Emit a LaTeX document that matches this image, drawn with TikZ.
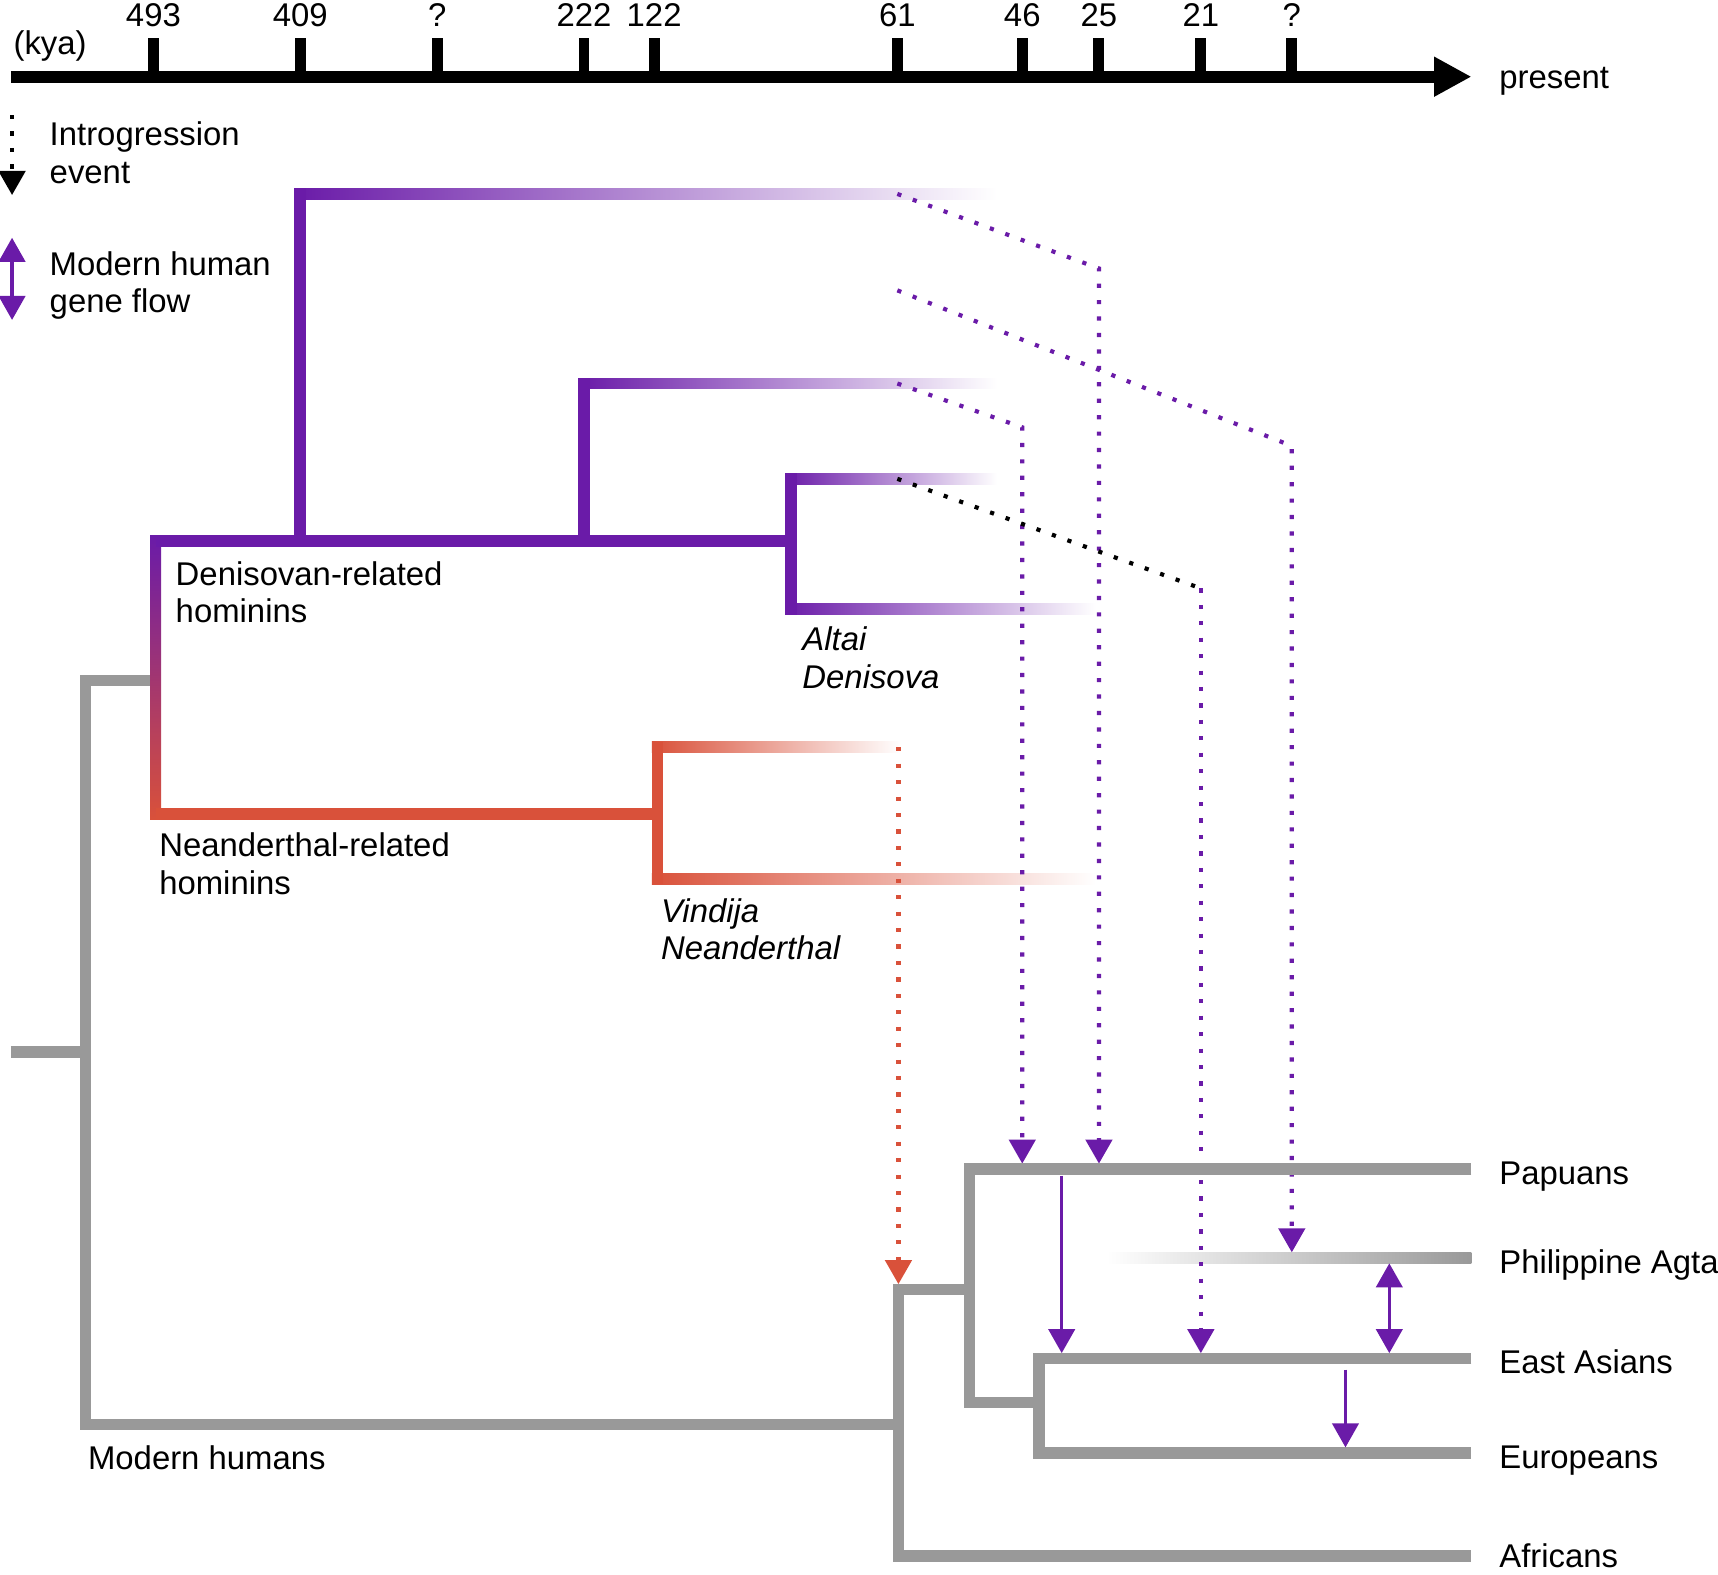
\documentclass[tikz,border=0pt]{standalone}
\usepackage{fontspec}
\setmainfont{Liberation Sans}
\usetikzlibrary{arrows.meta, calc}

\definecolor{denipurple}{RGB}{106,27,168}
\definecolor{neanred}{RGB}{217,81,58}
\definecolor{humangray}{RGB}{153,153,153}

\begin{document}
\begin{tikzpicture}[x=0.5pt, y=-0.5pt,
		every node/.style={font=\fontsize{15pt}{17pt}\selectfont, inner sep=0pt},
		txt/.style={anchor=north west, align=left},
		itxt/.style={anchor=north west, align=left, font=\fontsize{15pt}{17pt}\selectfont\itshape},
		tickmark/.style={line width=5pt},
		branch/.style={line width=5.3pt, line join=miter},
		fadebar/.style={left color=#1, right color=white},
		dots/.style={line width=1.9pt, dash pattern=on 1.9pt off 5.6pt},
		tip/.style={-{Triangle[width=12pt, length=11pt]}},
		flow/.style={denipurple, line width=1.6pt}]
		\useasboundingbox (0,0) rectangle (1568,1437);
		%%%%%%%%%%%%% time axis
		\coordinate (t start) at (10,70);
		\coordinate (t end) at (1343,70);
		\draw [line width=5.5pt, -{Triangle[width=17pt, length=17pt]}] (t start) -- (t end);
		\foreach \x/\lab in {140/493, 274/409, 399/?, 533/222, 597/122, 819/61, 933/46, 1003/25, 1096/21, 1179/?}{
			\draw [tickmark] (\x,35) -- (\x,70);
			\node [anchor=base] (kya\x) at (\x,24) {\lab};
		}
		\node [anchor=base west] (kya) at (12,50) {(kya)};
		\node [anchor=base west] (present) at (1368,81) {present};
		%%%%%%%%%%%%% legend
		\coordinate (leg dots top) at (11,105);
		\coordinate (leg dots tip) at (11,178);
		\coordinate (leg flow top) at (11,217);
		\coordinate (leg flow bot) at (11,292);
		\draw [dots, tip] (leg dots top) -- (leg dots tip);
		\draw [flow, {Triangle[width=12pt, length=11pt]}-{Triangle[width=12pt, length=11pt]}] (leg flow top) -- (leg flow bot);
		\node [txt] (intro) at (45,111) {Introgression\\event};
		\node [txt] (geneflow) at (45,229) {Modern human\\gene flow};
		%%%%%%%%%%%%% tree points
		\coordinate (den root) at (142,494);
		\coordinate (den a) at (274,494);
		\coordinate (den a top) at (274,172);
		\coordinate (den a end) at (910,182);
		\coordinate (den b) at (533,494);
		\coordinate (den b top) at (533,345);
		\coordinate (den b end) at (910,355);
		\coordinate (den c) at (722,494);
		\coordinate (den c top) at (722,432);
		\coordinate (den c end) at (910,442);
		\coordinate (den c bot) at (722,561);
		\coordinate (altai end) at (1000,551);
		\coordinate (nean root) at (142,743);
		\coordinate (nean split) at (600,743);
		\coordinate (nean top) at (600,677);
		\coordinate (nean top end) at (822,687);
		\coordinate (nean bot) at (600,807);
		\coordinate (vindija end) at (1000,797);
		\coordinate (root) at (10,960);
		\coordinate (mh root) at (78,960);
		\coordinate (arch join) at (78,621);
		\coordinate (arch base) at (137,621);
		\coordinate (mh corner) at (78,1300);
		\coordinate (ooa) at (820,1300);
		\coordinate (ooa top) at (820,1177);
		\coordinate (afr corner) at (820,1420);
		\coordinate (afr end) at (1343,1420);
		\coordinate (nonafr) at (885,1177);
		\coordinate (pap corner) at (885,1067);
		\coordinate (pap end) at (1343,1067);
		\coordinate (eur split) at (885,1280);
		\coordinate (ea root) at (948,1280);
		\coordinate (ea corner) at (948,1240);
		\coordinate (ea end) at (1343,1240);
		\coordinate (eur corner) at (948,1326);
		\coordinate (eur end) at (1343,1326);
		\coordinate (agta start) at (1010,1143);
		\coordinate (agta end) at (1343,1153);
		%%%%%%%%%%%%% fading branches
		\shade [fadebar=denipurple] ($(den a top)+(-5,0)$) rectangle (den a end);
		\shade [fadebar=denipurple] ($(den b top)+(-5,0)$) rectangle (den b end);
		\shade [fadebar=denipurple] ($(den c top)+(-5,0)$) rectangle (den c end);
		\shade [fadebar=denipurple] ($(den c bot)+(-5,0)$) rectangle (altai end);
		\shade [fadebar=neanred] ($(nean top)+(-5,0)$) rectangle (nean top end);
		\shade [fadebar=neanred] ($(nean bot)+(-5,0)$) rectangle (vindija end);
		\shade [left color=white, right color=humangray] (agta start) rectangle (agta end);
		\shade [top color=denipurple, bottom color=neanred] ($(den root)+(-5,-5)$) rectangle ($(nean root)+(5,5)$);
		%%%%%%%%%%%%% introgression
		\coordinate (src1) at (819,177);
		\coordinate (bend1) at (1003,245);
		\coordinate (tip1) at (1003,1062);
		\coordinate (src2) at (819,265);
		\coordinate (bend2) at (1179,407);
		\coordinate (tip2) at (1179,1143);
		\coordinate (src3) at (819,350);
		\coordinate (bend3) at (933,390);
		\coordinate (tip3) at (933,1062);
		\coordinate (src4) at (819,437);
		\coordinate (bend4) at (1096,537);
		\coordinate (tip4) at (1096,1235);
		\coordinate (src5) at (820,682);
		\coordinate (tip5) at (820,1172);
		\draw [dots, tip, denipurple] (src1) -- (bend1) -- (tip1);
		\draw [dots, tip, denipurple] (src2) -- (bend2) -- (tip2);
		\draw [dots, tip, denipurple] (src3) -- (bend3) -- (tip3);
		\draw [dots] (src4) -- (bend4);
		\draw [dots, tip, denipurple] (bend4) -- (tip4);
		\draw [dots, tip, neanred] (src5) -- (tip5);
		%%%%%%%%%%%%% solid branches
		\draw [branch, denipurple] (den root) -- (den c);
		\draw [branch, denipurple] (den a top) -- (den a);
		\draw [branch, denipurple] (den b top) -- (den b);
		\draw [branch, denipurple] (den c top) -- (den c bot);
		\draw [branch, neanred] (nean root) -- (nean split);
		\draw [branch, neanred] (nean top) -- (nean bot);
		\draw [branch, humangray] (root) -- (mh root);
		\draw [branch, humangray] (arch base) -- (arch join) -- (mh corner) -- (ooa);
		\draw [branch, humangray] (nonafr) -- (ooa top) -- (afr corner) -- (afr end);
		\draw [branch, humangray] (pap end) -- (pap corner) -- (eur split) -- (ea root);
		\draw [branch, humangray] (ea end) -- (ea corner) -- (eur corner) -- (eur end);
		%%%%%%%%%%%%% modern human gene flow
		\coordinate (pap flow) at (969,1073);
		\coordinate (ea flow) at (969,1235);
		\coordinate (agta flow) at (1268,1153);
		\coordinate (ea agta) at (1268,1235);
		\coordinate (ea eur) at (1228,1250);
		\coordinate (eur flow) at (1228,1321);
		\draw [flow, tip] (pap flow) -- (ea flow);
		\draw [flow, {Triangle[width=12pt, length=11pt]}-{Triangle[width=12pt, length=11pt]}] (agta flow) -- (ea agta);
		\draw [flow, tip] (ea eur) -- (eur flow);
		%%%%%%%%%%%%% labels
		\node [txt] (den label) at (160,512) {Denisovan-related\\hominins};
		\node [txt] (nean label) at (145,760) {Neanderthal-related\\hominins};
		\node [itxt] (altai) at (732,572) {Altai\\Denisova};
		\node [itxt] (vindija) at (603,820) {Vindija\\Neanderthal};
		\node [anchor=base west] (mh label) at (80,1341) {Modern humans};
		\node [anchor=base west] (papuans) at (1368,1081) {Papuans};
		\node [anchor=base west] (agta) at (1368,1162) {Philippine Agta};
		\node [anchor=base west] (eastasians) at (1368,1254) {East Asians};
		\node [anchor=base west] (europeans) at (1368,1340) {Europeans};
		\node [anchor=base west] (africans) at (1368,1431) {Africans};
	\end{tikzpicture}
\end{document}
